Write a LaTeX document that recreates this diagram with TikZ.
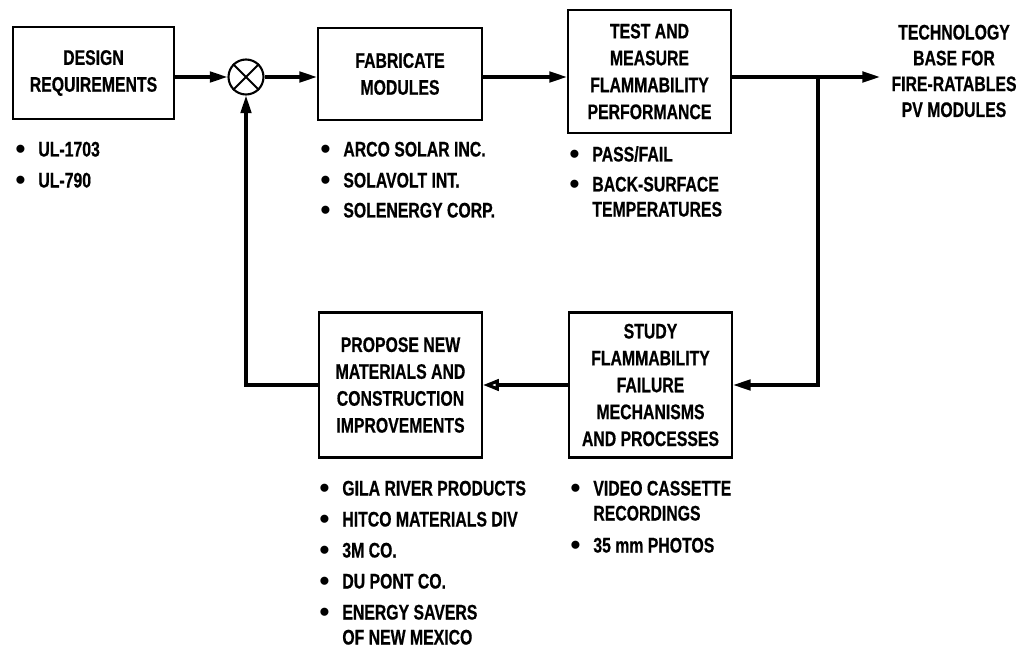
\documentclass[tikz,border=0pt]{standalone}
\usepackage{fontspec}
\newfontfamily\dfont{Liberation Sans}[FakeStretch=0.75,FakeBold=0.6]
\newfontfamily\bfont{Liberation Sans}
\usetikzlibrary{arrows.meta}
\tikzset{
  dtext/.style={font=\dfont\bfseries\fontsize{12}{15.3}\selectfont},
  box/.style={draw, line width=1.2pt, dtext, align=center, inner sep=0pt},
  conn/.style={line width=1.8pt},
  arr/.style={conn, -{Triangle[length=10pt,width=6pt]}},
  oarr/.style={conn, -{Triangle[open,length=9pt,width=6.5pt,line width=1.8pt]}},
  item/.style={dtext, anchor=base west, inner sep=0pt},
  sumnode/.style={draw, circle, line width=1.2pt, minimum size=0.7cm, inner sep=0pt}
}
\newcommand{\bul}{\llap{\raisebox{-1pt}{\bfont\fontsize{16}{16}\selectfont\textbullet}\hspace{0.26cm}}}
\begin{document}
\begin{tikzpicture}[x=0.02cm,y=-0.02cm]
\useasboundingbox (0,0) rectangle (1020,655);
% boxes
\node[box, minimum width=3.22cm, minimum height=1.84cm] (design) at (93.5,73) {DESIGN\\REQUIREMENTS};
\node[sumnode] (sum) at (246,77) {};
\draw[line width=1.2pt] (sum.north west) -- (sum.south east) (sum.north east) -- (sum.south west);
\node[box, minimum width=3.28cm, minimum height=1.84cm] (fab) at (400,74) {FABRICATE\\MODULES};
\node[box, minimum width=3.26cm, minimum height=2.46cm] (test) at (649.5,71.5) {TEST AND\\MEASURE\\FLAMMABILITY\\PERFORMANCE};
\node[box, minimum width=3.26cm, minimum height=2.9cm] (prop) at (400.5,385) {PROPOSE NEW\\MATERIALS AND\\CONSTRUCTION\\IMPROVEMENTS};
\node[box, minimum width=3.26cm, minimum height=2.9cm] (study) at (650.5,385) {STUDY\\FLAMMABILITY\\FAILURE\\MECHANISMS\\AND PROCESSES};
\node[align=center, inner sep=0pt, font=\dfont\bfseries\fontsize{12}{14.7}\selectfont] (tech) at (954,71) {TECHNOLOGY\\BASE FOR\\FIRE-RATABLES\\PV MODULES};
% connectors
\coordinate (split) at (818,77);
\coordinate (outend) at (880,77);
\draw[arr] (design.east |- sum.west) -- (sum.west);
\draw[arr] (sum.east) -- (fab.west |- sum.east);
\draw[arr] (fab.east |- sum.east) -- (test.west |- sum.east);
\draw[arr] (test.east |- sum.east) -- (outend);
\draw[arr] (split) |- (study.east);
\draw[oarr] (study.west) -- (prop.east);
\draw[arr] (prop.west) -| (sum.south);
% bullet lists
\node[item] (d1) at (38,156.5) {\bul UL-1703};
\node[item] (d2) at (38,187.5) {\bul UL-790};
\node[item] (f1) at (343,156.5) {\bul ARCO SOLAR INC.};
\node[item] (f2) at (343,187.5) {\bul SOLAVOLT INT.};
\node[item] (f3) at (343,217.5) {\bul SOLENERGY CORP.};
\node[item] (t1) at (592,161.5) {\bul PASS/FAIL};
\node[item] (t2) at (592,191.5) {\bul BACK-SURFACE};
\node[item] (t3) at (592,216.5) {TEMPERATURES};
\node[item] (p1) at (342,495.5) {\bul GILA RIVER PRODUCTS};
\node[item] (p2) at (342,526.5) {\bul HITCO MATERIALS DIV};
\node[item] (p3) at (342,557.5) {\bul 3M CO.};
\node[item] (p4) at (342,588.5) {\bul DU PONT CO.};
\node[item] (p5) at (342,619.5) {\bul ENERGY SAVERS};
\node[item] (p6) at (342,644.5) {OF NEW MEXICO};
\node[item] (s1) at (593,495.5) {\bul VIDEO CASSETTE};
\node[item] (s2) at (593,520.5) {RECORDINGS};
\node[item] (s3) at (593,552.5) {\bul 35 mm PHOTOS};
\end{tikzpicture}
\end{document}
